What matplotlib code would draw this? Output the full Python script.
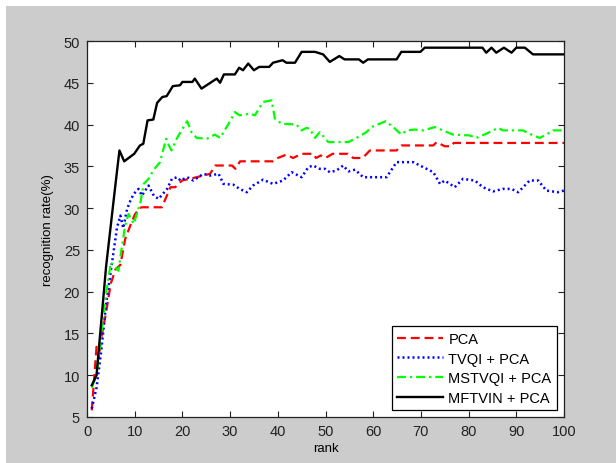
import numpy as np
import matplotlib.pyplot as plt
from matplotlib.patches import Rectangle

plt.rcParams['font.family'] = ['Liberation Sans', 'DejaVu Sans']

# PCA (red dashed)
pca_rank = [1, 2, 2.5, 3, 4, 5, 6, 7, 8, 9, 10, 11, 11.5, 15.7, 17.5, 18.5, 19.9, 23, 25.8,
            26.9, 30.4, 31.1, 32.1, 39, 40, 41.8, 43.2, 45, 47.4, 48, 49, 50, 51.5, 54.7,
            55.8, 57.8, 59.3, 64.9, 65.9, 72.6, 73.3, 75, 76.4, 76.9, 100]
pca_val = [5.8, 13.4, 12.0, 14.5, 17.5, 21.0, 22.7, 23.2, 26.3, 27.8, 29.2, 30.0, 30.1, 30.1,
           32.5, 32.5, 33.3, 33.7, 34.1, 35.1, 35.1, 34.7, 35.6, 35.6, 36.0, 36.4, 36.0, 36.5,
           36.5, 36.0, 36.3, 36.0, 36.5, 36.5, 36.0, 36.0, 36.9, 36.9, 37.5, 37.5, 37.9, 37.4,
           37.4, 37.8, 37.8]

# TVQI + PCA (blue dotted)
tvqi_rank = [1, 2, 3, 4, 5, 6.3, 7, 7.6, 8.4, 9.1, 9.8, 10.8, 11.5, 12.9, 14, 15, 16.8, 17.8,
             18.9, 19.6, 21, 22.3, 24.4, 25.8, 27.6, 28.6, 30.7, 32, 33.5, 34.8, 36.9, 39,
             41.1, 42.9, 45, 46.4, 47.4, 48.8, 49.9, 50.9, 52.3, 53.7, 54.8, 56.2, 57.9, 62.8,
             64.9, 68.4, 70.5, 72.6, 74, 75, 77.1, 78.8, 81.3, 83, 85.1, 87.2, 89, 90.4, 92.8,
             94.6, 96.3, 98.7, 100]
tvqi_val = [6.0, 8.5, 13.0, 18.5, 22.5, 27.7, 29.1, 27.6, 29.9, 30.9, 31.7, 32.3, 31.5, 32.7,
            31.5, 31.1, 32.3, 33.5, 33.7, 33.3, 33.7, 33.3, 34.1, 33.9, 34.1, 32.9, 32.8, 32.3,
            31.9, 32.7, 33.4, 32.9, 33.3, 34.3, 33.7, 34.9, 35.1, 34.7, 34.7, 34.3, 34.5, 35.1,
            34.4, 34.6, 33.7, 33.7, 35.5, 35.5, 34.9, 34.3, 32.9, 33.3, 32.5, 33.5, 33.3, 32.5,
            32.0, 32.3, 32.3, 31.9, 33.3, 33.3, 32.1, 31.9, 32.1]

# MSTVQI + PCA (green dash-dot)
mstvqi_rank = [1, 2, 3, 4, 5, 6.6, 7, 8, 8.7, 9.8, 11.2, 11.9, 12.9, 14, 15.3, 16.6, 17,
               17.7, 18.8, 19.8, 21, 21.9, 23, 25.1, 26.8, 27.9, 30, 31, 32, 34.2, 35.2, 36.9,
               38.7, 39.4, 40.8, 43.9, 45, 46, 46.7, 47.8, 48.8, 50.6, 54.8, 56.8, 58.6, 59.6,
               61.4, 62.6, 64.2, 65.9, 67, 68.7, 70.5, 72.9, 74.6, 76.7, 80.2, 81.6, 83.7,
               86.2, 87.2, 91.4, 93.5, 94.9, 96.3, 97.7, 100]
mstvqi_val = [8.5, 10.0, 15.0, 19.7, 23.5, 22.5, 24.2, 27.9, 29.3, 28.1, 30.7, 32.9, 33.5,
              34.6, 35.5, 38.3, 37.7, 36.9, 38.3, 39.3, 40.4, 39.1, 38.4, 38.3, 38.8, 38.4,
              40.4, 41.5, 41.1, 41.3, 41.1, 42.7, 42.9, 40.7, 40.1, 40.0, 39.3, 39.6, 39.5,
              38.4, 39.1, 37.9, 37.9, 38.5, 39.1, 39.7, 40.1, 40.4, 39.7, 38.8, 39.3, 39.4,
              39.3, 39.7, 39.3, 38.8, 38.7, 38.4, 38.9, 39.6, 39.3, 39.3, 38.7, 38.4, 38.8,
              39.3, 39.3]

# MFTVIN + PCA (black solid)
mftvin_rank = [1, 2, 3, 4, 5, 6, 6.8, 7.8, 9.9, 11.1, 11.8, 12.7, 13.9, 14.7, 15.8, 16.7,
               18, 19.5, 20, 22.1, 22.6, 24, 27.2, 27.9, 28.7, 31, 31.9, 32.7, 33.8, 35, 36.1,
               38.2, 39, 41, 41.8, 43.6, 45, 47.8, 49.5, 50.9, 52.9, 54, 57, 57.9, 58.9, 64.9,
               65.9, 69.9, 70.8, 82.9, 83.7, 84.8, 85.8, 87.4, 89, 90, 91.8, 93.5, 100]
mftvin_val = [8.8, 10.0, 16.5, 23.0, 28.0, 33.0, 36.9, 35.6, 36.5, 37.5, 37.7, 40.5, 40.6,
              42.6, 43.3, 43.4, 44.6, 44.7, 45.1, 45.1, 45.5, 44.3, 45.5, 45.0, 46.0, 46.0,
              46.8, 46.5, 47.3, 46.5, 46.9, 46.9, 47.4, 47.7, 47.4, 47.4, 48.7, 48.7, 48.4,
              47.5, 48.2, 47.8, 47.8, 47.4, 47.8, 47.8, 48.7, 48.7, 49.2, 49.2, 48.6, 49.2,
              48.6, 49.2, 48.6, 49.2, 49.2, 48.4, 48.4]

W, H = 616, 464
fig = plt.figure(figsize=(W / 100, H / 100), dpi=100, facecolor='#cccccc')
# white margins of the screenshot
fig.patches.append(Rectangle((0, 1 - 7 / H), 1, 7 / H, transform=fig.transFigure,
                             facecolor='white', edgecolor='none', zorder=0))
fig.patches.append(Rectangle((0, 0), 6 / W, 1, transform=fig.transFigure,
                             facecolor='white', edgecolor='none', zorder=0))

ax = fig.add_axes([87 / W, 1 - 418 / H, (564 - 87) / W, (418 - 42) / H])
ax.set_facecolor('white')

ax.plot(pca_rank, pca_val, color='#ff0000', linestyle='--', linewidth=1.6,
        dashes=(4, 2.2), label='PCA')
ax.plot(tvqi_rank, tvqi_val, color='#0000ff', linestyle=':', linewidth=1.8,
        dashes=(0.8, 1.2), label='TVQI + PCA')
ax.plot(mstvqi_rank, mstvqi_val, color='#00ff00', linestyle='-.', linewidth=1.6,
        dashes=(4, 1.8, 1, 1.8), label='MSTVQI + PCA')
ax.plot(mftvin_rank, mftvin_val, color='black', linestyle='-', linewidth=1.7,
        label='MFTVIN + PCA')

ax.set_xlim(0, 100)
ax.set_ylim(5, 50)
ax.set_xticks(np.arange(0, 101, 10))
ax.set_yticks(np.arange(5, 51, 5))
ax.tick_params(direction='in', length=4.5, width=0.8, labelsize=10.5, colors='#222222',
               top=True, right=True, pad=5)
for s in ax.spines.values():
    s.set_linewidth(0.9)
    s.set_color('#222222')

ax.set_xlabel('rank', fontsize=9.5, labelpad=3)
ax.set_ylabel('recognition rate(%)', fontsize=9.5, labelpad=7)

leg = ax.legend(loc='lower right', fontsize=10.5, fancybox=False, framealpha=1,
                edgecolor='black', handlelength=3.1, labelspacing=0.38,
                borderaxespad=0.45, borderpad=0.4, handletextpad=0.4)
leg.get_frame().set_linewidth(0.9)

fig.savefig('out.png', dpi=100, facecolor=fig.get_facecolor())
